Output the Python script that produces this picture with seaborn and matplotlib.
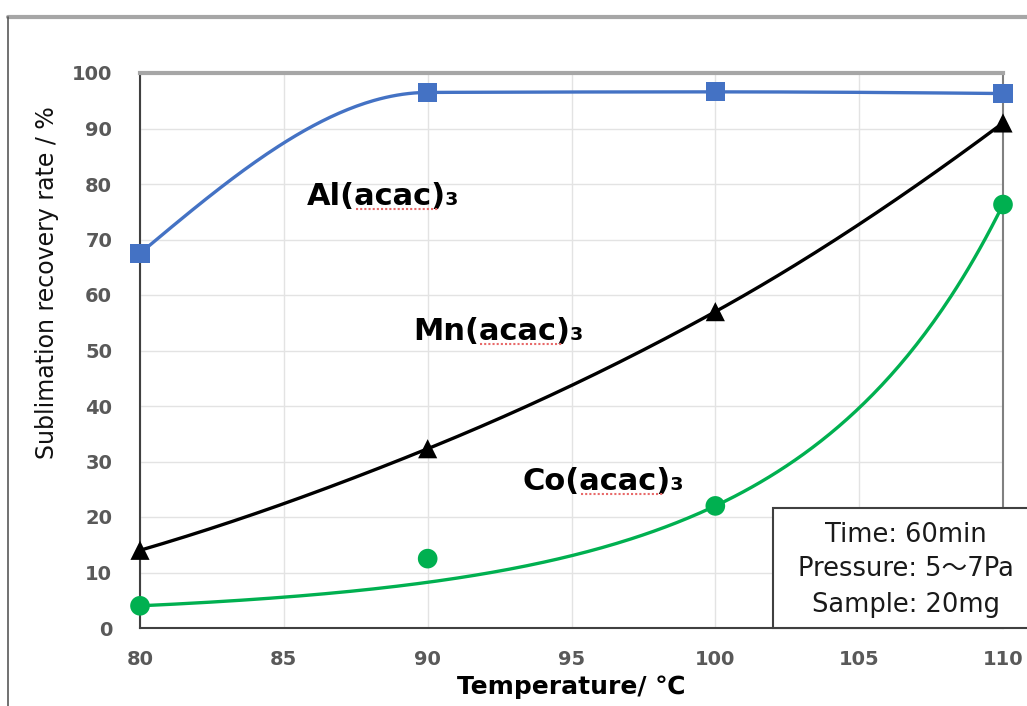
import numpy as np
import pandas as pd
import matplotlib
matplotlib.use("Agg")
import matplotlib.pyplot as plt
from matplotlib.lines import Line2D
from matplotlib.patches import Rectangle
import seaborn as sns

temps = [80, 90, 100, 110]
al_rate = [67.5, 96.5, 96.6, 96.3]
mn_rate = [14.0, 32.3, 57.0, 91.0]
co_rate = [4.0, 12.5, 22.0, 76.3]
x_ticks = [80, 85, 90, 95, 100, 105, 110]
y_ticks = [0, 10, 20, 30, 40, 50, 60, 70, 80, 90, 100]
info_lines = ["Time: 60min", "Pressure: 5～7Pa", "Sample: 20mg"]


def pchip(x, y, xs):
    # monotone cubic, close to the smoothed lines in the original
    x = np.asarray(x, float)
    y = np.asarray(y, float)
    h = np.diff(x)
    d = np.diff(y) / h
    n = len(x)
    m = np.zeros(n)
    for k in range(1, n - 1):
        if d[k - 1] * d[k] > 0:
            w1 = 2 * h[k] + h[k - 1]
            w2 = h[k] + 2 * h[k - 1]
            m[k] = (w1 + w2) / (w1 / d[k - 1] + w2 / d[k])
    for i, hh, a, b in [(0, (h[0], h[1]), d[0], d[1]), (n - 1, (h[-1], h[-2]), d[-1], d[-2])]:
        e = ((2 * hh[0] + hh[1]) * a - hh[0] * b) / (hh[0] + hh[1])
        if np.sign(e) != np.sign(a):
            e = 0
        elif np.sign(a) != np.sign(b) and abs(e) > abs(3 * a):
            e = 3 * a
        m[i] = e
    idx = np.clip(np.searchsorted(x, xs) - 1, 0, n - 2)
    t = (xs - x[idx]) / h[idx]
    h00 = 2 * t**3 - 3 * t**2 + 1
    h10 = t**3 - 2 * t**2 + t
    h01 = -2 * t**3 + 3 * t**2
    h11 = t**3 - t**2
    return h00 * y[idx] + h10 * h[idx] * m[idx] + h01 * y[idx + 1] + h11 * h[idx] * m[idx + 1]


xs = np.linspace(80, 110, 300)
# Co trend: log-quadratic fit through the 80/100/110 points (the 90 point sits off the curve)
co_fit = np.polyfit([temps[0], temps[2], temps[3]], np.log([co_rate[0], co_rate[2], co_rate[3]]), 2)

curves = pd.concat([
    pd.DataFrame({"T": xs, "rate": pchip(temps, al_rate, xs), "s": "Al"}),
    pd.DataFrame({"T": xs, "rate": pchip(temps, mn_rate, xs), "s": "Mn"}),
    pd.DataFrame({"T": xs, "rate": np.exp(np.polyval(co_fit, xs)), "s": "Co"}),
])
points = pd.concat([
    pd.DataFrame({"T": temps, "rate": al_rate, "s": "Al"}),
    pd.DataFrame({"T": temps, "rate": mn_rate, "s": "Mn"}),
    pd.DataFrame({"T": temps, "rate": co_rate, "s": "Co"}),
])

colors = {"Al": "#4472C4", "Mn": "#000000", "Co": "#00B050"}
markers = {"Al": "s", "Mn": "^", "Co": "o"}

sns.set_theme(style="white")
plt.rcParams["font.family"] = ["DejaVu Sans", "Noto Sans CJK JP"]

fig = plt.figure(figsize=(10.27, 7.06), dpi=100)
ax = fig.add_axes([140 / 1027, 1 - 628 / 706, 863 / 1027, 555 / 706])

sns.lineplot(data=curves, x="T", y="rate", hue="s", palette=colors, sort=False,
             linewidth=2.4, legend=False, ax=ax, zorder=3)
for name, g in points.groupby("s"):
    sns.scatterplot(data=g, x="T", y="rate", color=colors[name], marker=markers[name],
                    s=190 if name != "Co" else 200, edgecolor="none", legend=False,
                    ax=ax, zorder=4, clip_on=False)

ax.set_xlim(80, 110)
ax.set_ylim(0, 100)
ax.set_xticks(x_ticks)
ax.set_yticks(y_ticks)
ax.grid(True, color="#E3E3E3", linewidth=1.0)
ax.set_axisbelow(True)
ax.tick_params(axis="both", direction="in", length=7, width=1.2, color="#7F7F7F",
               labelsize=14, labelcolor="#595959")
ax.tick_params(axis="y", pad=20)
ax.tick_params(axis="x", pad=16)
for lab in ax.get_xticklabels() + ax.get_yticklabels():
    lab.set_fontweight("bold")

for side, c, w in [("left", "#404040", 1.5), ("bottom", "#404040", 1.5),
                   ("top", "#A6A6A6", 3.0), ("right", "#808080", 1.5)]:
    ax.spines[side].set_visible(True)
    ax.spines[side].set_color(c)
    ax.spines[side].set_linewidth(w)

ax.set_xlabel("Temperature/ ℃", fontsize=18, fontweight="bold", color="black")
ax.xaxis.set_label_coords(0.5, -0.085)
ax.set_ylabel("Sublimation recovery rate / %", fontsize=17, color="#111111")
ax.yaxis.set_label_coords(-0.094, 0.623)

lab_kw = dict(fontsize=22, fontweight="bold", color="black", ha="left", va="baseline")
labels = [(85.8, 76.2, "Al"), (89.5, 51.9, "Mn"), (93.3, 24.9, "Co")]
texts = [ax.text(x, y, f"{el}(acac)₃", **lab_kw) for x, y, el in labels]

# info box, running past the right edge like the original
fig.add_artist(Rectangle((773 / 1027, 1 - 628 / 706), 0.3, 120 / 706, transform=fig.transFigure,
                         facecolor="white", edgecolor="#404040", linewidth=1.5, zorder=5))
for yy, line in zip([535, 569, 605], info_lines):
    fig.text(906 / 1027, 1 - yy / 706, line, ha="center", va="center", fontsize=18.5,
             color="#1a1a1a", zorder=6)

# chart area frame
fig.add_artist(Line2D([8 / 1027, 1], [1 - 17 / 706] * 2, transform=fig.transFigure,
                      color="#A6A6A6", linewidth=3))
fig.add_artist(Line2D([8 / 1027] * 2, [0, 1 - 17 / 706], transform=fig.transFigure,
                      color="#595959", linewidth=1.2))

# spell-check style red dotted underline below "acac"
fig.canvas.draw()
rend = fig.canvas.get_renderer()
for t, (x, y, el) in zip(texts, labels):
    x0, y0 = ax.transData.transform((x, y))
    w_start = rend.get_text_width_height_descent(f"{el}(", t.get_fontproperties(), ismath=False)[0]
    w_end = rend.get_text_width_height_descent(f"{el}(acac", t.get_fontproperties(), ismath=False)[0]
    ax.add_line(Line2D([x0 + w_start + 1, x0 + w_end + 7], [y0 - 4, y0 - 4], transform=None,
                       color="#E86A6A", linewidth=1.5, linestyle=(0, (1, 1)), zorder=5))

fig.savefig("out.png", dpi=100)
